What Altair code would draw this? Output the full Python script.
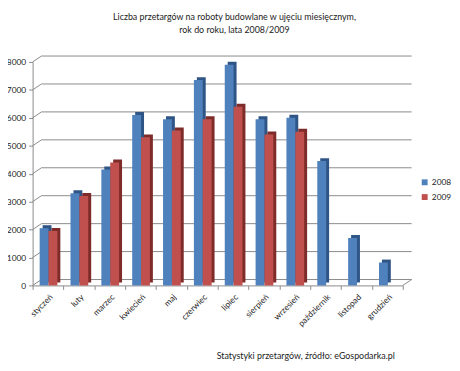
import altair as alt
import pandas as pd

months = ["styczeń", "luty", "marzec", "kwiecień", "maj", "czerwiec",
          "lipiec", "sierpień", "wrzesień", "październik", "listopad", "grudzień"]
v2008 = [2050, 3300, 4150, 6100, 5950, 7350, 7900, 5950, 6000, 4450, 1700, 820]
v2009 = [1950, 3200, 4400, 5300, 5550, 5950, 6400, 5400, 5500, None, None, None]
years = ["2008", "2009"]
ticks = [0, 1000, 2000, 3000, 4000, 5000, 6000, 7000, 8000]

title_lines = ["Liczba przetargów na roboty budowlane w ujęciu miesięcznym,",
               "rok do roku, lata 2008/2009"]
footer = "Statystyki przetargów, źródło: eGospodarka.pl"

rows = []
for m, a, b in zip(months, v2008, v2009):
    if a is not None:
        rows.append({"month": m, "year": "2008", "value": a})
    if b is not None:
        rows.append({"month": m, "year": "2009", "value": b})
df = pd.DataFrame(rows)
grid_df = pd.DataFrame({"v": ticks})
foot_df = pd.DataFrame({"t": [footer]})

FONT = "Lato"
W, H = 376, 227
DX, DY = 9, -6
GRID = "#8a8a8a"

xenc = alt.X("month:N", sort=months, scale=alt.Scale(paddingInner=0, paddingOuter=0),
             axis=alt.Axis(title=None, labelAngle=-45, labelFontSize=8.5, labelFont=FONT,
                           labelColor="#222", domainColor=GRID, tickColor=GRID,
                           tickBand="extent", tickSize=4, labelPadding=3))
yscale = alt.Scale(domain=[0, 8000])
yaxis = alt.Axis(title=None, values=ticks, format="d", grid=False, labelFontSize=8.5,
                 labelFont=FONT, labelColor="#222", domainColor=GRID,
                 tickColor=GRID, tickSize=4, labelPadding=3)
yenc = alt.Y("value:Q", scale=yscale, axis=yaxis)
ygrid = alt.Y("v:Q", scale=yscale, axis=yaxis)

base = alt.Chart(df)

grid_back = alt.Chart(grid_df).mark_rule(color=GRID, strokeWidth=1, yOffset=DY).encode(
    y=ygrid, x=alt.value(DX), x2=alt.value(W + DX))
grid_slant = alt.Chart(grid_df).mark_rule(color=GRID, strokeWidth=1, y2Offset=DY).encode(
    y=ygrid, y2="v:Q", x=alt.value(0), x2=alt.value(DX))
floor_right = alt.Chart(grid_df).transform_filter("datum.v == 0").mark_rule(
    color=GRID, strokeWidth=1, y2Offset=DY).encode(
    y=ygrid, y2="v:Q", x=alt.value(W), x2=alt.value(W + DX))

BW = 9
def bars(year, off, color, shadow):
    kw = dict(width=BW, xOffset=off)
    if shadow:
        kw.update(xOffset=off + 3, yOffset=-3, y2Offset=-3, color=color)
        enc = dict(x=xenc, y=yenc)
    else:
        enc = dict(x=xenc, y=yenc,
                   color=alt.Color("year:N", scale=alt.Scale(domain=years, range=["#4F81BD", "#C0504D"]),
                                   legend=alt.Legend(title=None, orient="none", legendX=394, legendY=118,
                                                     symbolType="square", symbolSize=36,
                                                     labelFontSize=8.5, labelFont=FONT, labelColor="#222",
                                                     labelOffset=3, rowPadding=6, symbolStrokeWidth=0)))
    return base.transform_filter(f"datum.year == '{year}'").mark_bar(**kw).encode(**enc)

layers = [
    grid_back, grid_slant, floor_right,
    bars("2008", -4, "#2F5586", True),
    bars("2009", 5, "#7E2C2A", True),
    bars("2008", -4, None, False),
    bars("2009", 5, None, False),
    alt.Chart(foot_df).mark_text(align="left", baseline="middle", fontSize=9, font=FONT,
                                 color="#222").encode(text="t:N", x=alt.value(187), y=alt.value(299)),
]

chart = alt.layer(*layers).properties(
    width=W, height=H,
    title=alt.Title(title_lines, fontSize=9, font=FONT, fontWeight="normal", color="#222",
                    anchor="middle", dx=17, offset=21, lineHeight=13),
    autosize=alt.AutoSizeParams(type="none"),
    padding={"left": 25, "top": 52, "right": 50, "bottom": 76},
).configure_view(stroke=None)

chart.save("out.html", embed_options={"renderer": "svg", "actions": False})
